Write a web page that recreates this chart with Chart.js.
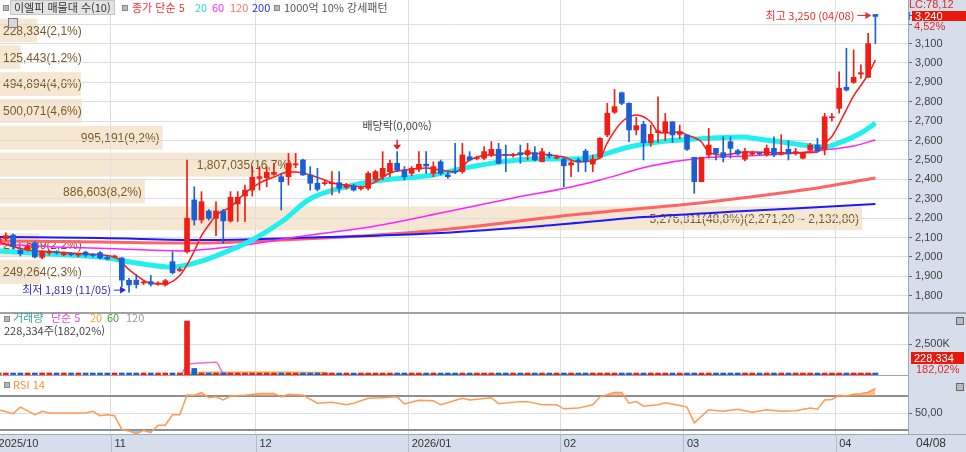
<!DOCTYPE html>
<html lang="ko">
<head>
<meta charset="utf-8">
<title>이엘피 일봉</title>
<script src="https://cdn.jsdelivr.net/npm/chart.js@4.4.1/dist/chart.umd.min.js"></script>
<style>
  html, body { margin: 0; padding: 0; background: #fff; }
  #wrap { position: relative; width: 966px; height: 452px; overflow: hidden; background: #fff;
          font-family: "Noto Sans CJK KR", "Noto Sans", sans-serif; }
  #wrap canvas { position: absolute; left: -5px; }
  .t { position: absolute; white-space: nowrap; font-size: 11px; line-height: 13px; }
  .sq { position: absolute; width: 4px; height: 4px; background: #b8b8b8; border: 1px solid #8a8a8a; }
  .num { font-family: "Liberation Sans", sans-serif; }
</style>
</head>
<body>
<div id="wrap">
  <canvas id="cPrice" width="971" height="312" style="top:0"></canvas>
  <canvas id="cVol" width="971" height="64" style="top:312px"></canvas>
  <canvas id="cRsi" width="971" height="76" style="top:376px"></canvas>

  <!-- price panel legend -->
  <div class="sq" style="left:3px;top:5px"></div>
  <div class="t" style="left:10px;top:0;padding:0 3px;background:#e3e3e3;border:1px solid #c4c4c4;color:#333">이엘피 매물대 수(10)</div>
  <div class="sq" style="left:122px;top:5px"></div>
  <div class="t" style="left:132px;top:1px;color:#ff3030">종가 단순 5</div>
  <div class="t" style="left:195px;top:1px;color:#22dcdc">20</div>
  <div class="t" style="left:212px;top:1px;color:#ff2cff">60</div>
  <div class="t" style="left:230px;top:1px;color:#ff7070">120</div>
  <div class="t" style="left:252px;top:1px;color:#2a2aff">200</div>
  <div class="sq" style="left:274px;top:5px"></div>
  <div class="t" style="left:284px;top:1px;color:#555">1000억 10% 강세패턴</div>
  <div style="position:absolute;left:8px;top:18px;width:8px;height:8px;border:1px solid #7a7a7a;background:#d8d8d8"></div>

  <!-- right axis flags -->
  <div class="t num" style="left:909px;top:-2px;color:#e02828">LC:78,12</div>
  <div class="t num" style="left:908px;top:10px;color:#3060d0;font-size:10px">H</div>
  <div class="t num" style="left:912px;top:11px;width:54px;height:10px;line-height:10px;padding-left:3px;box-sizing:border-box;background:#e8180c;color:#fff">3,240</div>
  <div class="t num" style="left:914px;top:20px;color:#e02828">4,52%</div>

  <!-- volume panel legend -->
  <div class="sq" style="left:4px;top:316px"></div>
  <div class="t" style="left:13px;top:311px;color:#36a3a3">거래량</div>
  <div class="t" style="left:51px;top:311px;color:#e24fd2">단순 5</div>
  <div class="t" style="left:90px;top:311px;color:#f0a830">20</div>
  <div class="t" style="left:107px;top:311px;color:#3a9e3a">60</div>
  <div class="t" style="left:126px;top:311px;color:#999">120</div>
  <div class="t" style="left:4px;top:324px;color:#444">228,334주(182,02%)</div>
  <div style="position:absolute;left:956px;top:317px;width:6px;height:6px;border:1px solid #666;background:#bbb"></div>
  <div class="t num" style="left:911px;top:352px;width:53px;height:12px;line-height:12px;padding-left:3px;box-sizing:border-box;background:#e8180c;color:#fff">228,334</div>
  <div class="t num" style="left:916px;top:363px;color:#e02828">182,02%</div>

  <!-- rsi legend -->
  <div class="sq" style="left:4px;top:382px"></div>
  <div class="t" style="left:13px;top:378px;color:#ff8c3c">RSI 14</div>
  <div style="position:absolute;left:956px;top:383px;width:6px;height:6px;border:1px solid #666;background:#bbb"></div>

  <div class="t num" style="left:916px;top:437px;color:#333;font-size:12px">04/08</div>
</div>

<script>
// ---- data ----
const dates = [
  '2025/10/10','2025/10/13','2025/10/14','2025/10/15','2025/10/16','2025/10/17','2025/10/20','2025/10/21',
  '2025/10/22','2025/10/23','2025/10/24','2025/10/27','2025/10/28','2025/10/29','2025/10/30','2025/10/31',
  '2025/11/03','2025/11/04','2025/11/05','2025/11/06','2025/11/07','2025/11/10','2025/11/11','2025/11/12',
  '2025/11/13','2025/11/14','2025/11/17','2025/11/18','2025/11/19','2025/11/20','2025/11/21','2025/11/24',
  '2025/11/25','2025/11/26','2025/11/27','2025/11/28',
  '2025/12/01','2025/12/02','2025/12/03','2025/12/04','2025/12/05','2025/12/08','2025/12/09','2025/12/10',
  '2025/12/11','2025/12/12','2025/12/15','2025/12/16','2025/12/17','2025/12/18','2025/12/19','2025/12/22',
  '2025/12/23','2025/12/24','2025/12/26','2025/12/29','2025/12/30',
  '2026/01/02','2026/01/05','2026/01/06','2026/01/07','2026/01/08','2026/01/09','2026/01/12','2026/01/13',
  '2026/01/14','2026/01/15','2026/01/16','2026/01/19','2026/01/20','2026/01/21','2026/01/22','2026/01/23',
  '2026/01/26','2026/01/27','2026/01/28','2026/01/29','2026/01/30',
  '2026/02/02','2026/02/03','2026/02/04','2026/02/05','2026/02/06','2026/02/09','2026/02/10','2026/02/11',
  '2026/02/12','2026/02/13','2026/02/19','2026/02/20','2026/02/23','2026/02/24','2026/02/25','2026/02/26',
  '2026/02/27',
  '2026/03/03','2026/03/04','2026/03/05','2026/03/06','2026/03/09','2026/03/10','2026/03/11','2026/03/12',
  '2026/03/13','2026/03/16','2026/03/17','2026/03/18','2026/03/19','2026/03/20','2026/03/23','2026/03/24',
  '2026/03/25','2026/03/26','2026/03/27','2026/03/30','2026/03/31',
  '2026/04/01','2026/04/02','2026/04/03','2026/04/06','2026/04/07','2026/04/08'
];

const opens = [
  2080,2095,2113,2035,2040,2072,1998,2022,2026,2012, 2015,2010,2025,2010,2022,1998,2000,1995,1880,1881,
  1866,1873,1860,1856,1976,1930,2027,2294,2191,2237, 2199,2237,2186,2273,2314,2345,2405,2409,2426,2414,
  2414,2475,2500,2423,2380,2378,2378,2383,2359,2366, 2352,2354,2400,2414,2440,2483,2448,2431,2452,2479,
  2431,2491,2423,2442,2440,2517,2507,2509,2526,2555, 2528,2524,2538,2526,2538,2491,2530,2510,2504,2474,
  2500,2546,2479,2514,2629,2746,2847,2792,2655,2684, 2589,2641,2641,2697,2632,2629,2514,2388,2526,2560,
  2538,2594,2548,2504,2530,2533,2526,2560,2530,2555, 2534,2509,2551,2577,2555,2718,2766,2875,2900,2943,
  2926,3250
];
const highs = [
  2115,2125,2120,2045,2062,2080,2035,2035,2032,2025, 2022,2020,2030,2018,2028,2005,2010,1998,1890,1910,
  1878,1905,1872,1885,2027,1945,2500,2362,2337,2245, 2285,2245,2337,2337,2371,2466,2466,2466,2483,2430,
  2534,2534,2505,2466,2457,2395,2440,2440,2380,2375, 2365,2440,2448,2543,2500,2543,2466,2466,2543,2543,
  2491,2500,2440,2586,2586,2543,2520,2569,2595,2586, 2577,2535,2577,2586,2569,2560,2540,2525,2510,2500,
  2510,2555,2526,2615,2792,2864,2850,2795,2720,2700, 2680,2826,2740,2697,2680,2629,2514,2514,2663,2560,
  2620,2620,2555,2560,2545,2540,2577,2620,2630,2600, 2560,2540,2586,2612,2741,2741,2955,3076,3067,2990,
  3153,3250
];
const lows = [
  2070,2085,2040,2005,2030,1995,1990,2010,2015,2005, 2005,2000,2000,2000,1990,1985,1995,1847,1819,1840,
  1858,1850,1855,1850,1912,1925,2020,2165,2175,2190, 2110,2070,2180,2183,2183,2314,2345,2362,2420,2242,
  2371,2460,2420,2345,2340,2370,2320,2330,2350,2340, 2345,2345,2390,2397,2414,2440,2397,2420,2440,2431,
  2414,2423,2405,2430,2431,2495,2500,2500,2517,2480, 2440,2515,2483,2500,2495,2490,2510,2505,2362,2414,
  2440,2440,2440,2510,2620,2740,2785,2594,2630,2500, 2570,2590,2600,2590,2610,2550,2328,2388,2510,2500,
  2490,2510,2525,2495,2525,2525,2520,2517,2525,2500, 2525,2505,2545,2540,2526,2700,2741,2855,2895,2920,
  2926,3100
];
const closes = [
  2100,2110,2055,2018,2055,2000,2025,2026,2022,2018, 2012,2012,2010,2008,1995,1990,2002,1881,1856,1858,
  1870,1860,1866,1878,1919,1936,2200,2191,2285,2199, 2237,2186,2308,2308,2345,2411,2414,2436,2436,2388,
  2483,2479,2423,2380,2349,2382,2382,2354,2371,2345, 2356,2431,2440,2457,2483,2448,2414,2457,2478,2469,
  2466,2431,2414,2438,2526,2500,2510,2543,2555,2483, 2524,2528,2526,2548,2500,2543,2520,2514,2470,2486,
  2491,2491,2504,2612,2741,2775,2792,2655,2677,2589, 2632,2650,2697,2629,2646,2555,2388,2514,2577,2534,
  2514,2560,2531,2543,2536,2531,2560,2526,2540,2531, 2543,2534,2577,2548,2723,2722,2870,2861,2926,2950,
  3100,3240
];

// daily volume, thousand shares
const volumes = [
  18,15,22,16,12,20,14,11,13,10, 12,11,14,12,17,18,15,62,45,28,
  14,20,12,14,24,12,4290,590,180,150, 137,110,110,70,75,70,55,50,40,60,
  90,45,60,55,45,30,35,40,25,28, 22,50,35,75,45,40,35,30,40,35,
  28,38,22,40,85,30,20,32,35,40, 28,18,25,25,30,32,18,15,35,22,
  20,35,28,170,110,80,70,110,55,85, 50,70,45,55,30,60,110,80,75,32,
  30,45,22,32,20,18,35,32,28,30, 22,25,50,45,140,55,150,135,120,90,
  125.443,228.334
];

// moving averages: [day index, value]
const ma5Pts = [[0,2077],[4,2036],[8,2026],[12,2015],[16,2000],[18,1935],[20,1880],[21,1865],[23,1862],[25,1905],
  [26,1960],[27,2030],[28,2110],[29,2165],[30,2215],[32,2258],[34,2330],[36,2381],[38,2412],[40,2438],[41,2438],
  [43,2423],[45,2397],[46,2381],[48,2371],[50,2361],[52,2387],[54,2433],[56,2448],[59,2459],[61,2448],[63,2438],
  [65,2500],[68,2526],[71,2526],[73,2536],[76,2526],[78,2515],[80,2490],[83,2510],[84,2588],[86,2696],[88,2732],
  [90,2696],[91,2644],[92,2639],[94,2644],[95,2629],[97,2593],[98,2541],[100,2526],[103,2541],[104,2541],
  [109,2536],[113,2541],[114,2585],[115,2621],[117,2760],[118,2830],[120,2941],[121,3015]];
const ma20Pts = [[0,2031],[7,2015],[14,2000],[19,1969],[24,1948],[28,1979],[32,2036],[35,2088],[39,2180],[43,2300],
  [48,2362],[52,2392],[60,2423],[65,2464],[74,2505],[79,2505],[82,2515],[87,2567],[91,2593],[96,2608],[103,2619],
  [104,2613],[109,2588],[114,2567],[116,2588],[119,2639],[121,2691]];
const ma60Pts = [[0,2067],[8,2052],[17,2041],[25,2031],[33,2057],[41,2103],[52,2160],[61,2227],[71,2304],[79,2361],
  [83,2397],[90,2469],[97,2510],[103,2521],[108,2531],[114,2552],[118,2572],[121,2603]];
const ma120Pts = [[0,2083],[14,2077],[28,2072],[39,2088],[50,2108],[61,2139],[79,2216],[98,2284],[111,2345],[121,2407]];
const ma200Pts = [[0,2103],[14,2098],[28,2088],[41,2098],[61,2124],[75,2160],[89,2206],[103,2237],[111,2253],[121,2273]];

const volMa5Pts = [[0,16],[10,12],[16,15],[17,24],[19,32],[21,34],[25,18],[26,870],[27,986],[28,1022],[29,1052],
  [30,1069],[31,233],[32,137],[35,87],[40,63],[45,47],[50,30],[53,41],[56,46],[60,34],[64,45],[68,39],[72,26],
  [76,26],[80,24],[83,55],[85,92],[87,108],[90,74],[93,63],[96,67],[98,78],[101,52],[104,30],[108,27],[111,27],
  [113,34],[114,58],[116,88],[117,105],[118,120],[119,127],[120,124],[121,140]];
const volMa20Pts = [[0,15],[16,15],[20,22],[25,20],[26,233],[30,290],[35,300],[40,296],[45,282],[46,75],[50,60],
  [55,45],[60,42],[70,38],[80,28],[84,42],[88,58],[92,64],[96,70],[100,67],[104,52],[108,42],[112,35],[114,40],
  [116,50],[118,62],[121,82]];
const volMa60Pts = [[0,18],[25,18],[26,88],[40,102],[60,100],[80,98],[85,100],[86,32],[95,45],[105,48],[115,50],[121,62]];
const volMa120Pts = [[0,22],[25,22],[26,57],[60,58],[90,66],[121,86]];

const rsiPts = [[0,53.9],[2,49.3],[3,56.9],[5,48.1],[6,52],[7,50],[12,50],[13,52],[14,47],[15,48],[16,47],[17,30.8],
  [18,29],[19,25.8],[20,29.7],[21,27],[22,35.8],[23,35.8],[24,48],[25,48],[26,71.2],[27,71],[28,73.9],[29,68],
  [30,69],[31,65.4],[32,70],[34,71],[36,73],[38,73],[39,69],[40,72],[42,71],[44,61.5],[46,62.7],[48,59.7],
  [49,61.5],[51,67.3],[53,68],[55,69],[56,60.6],[58,65],[60,64.3],[61,59.7],[64,67.3],[65,65.4],[68,68],[69,61],
  [72,63.4],[73,63.4],[75,59.7],[77,59.7],[78,55],[80,55.8],[82,59.7],[83,69],[85,74],[86,74],[87,61.5],[88,63.4],
  [89,58],[91,59.7],[92,62],[94,58.8],[95,57],[96,38.5],[98,53.9],[100,52],[102,54.6],[104,51],[106,53.9],[108,52],
  [110,52.7],[112,55.8],[113,54.6],[114,65.4],[115,66],[116,70.8],[117,70],[118,72],[119,72.5],[120,74.4],[121,78.8]];
const rsiLevels = [70, 30];

// price-volume profile, 10 bands from top to bottom (by close)
const profileVol = [228334, 125443, 494894, 500071, 995191, 1807035, 886603, 5276811, 241589, 249264];
const profilePct = ['2,1', '1,2', '4,6', '4,6', '9,2', '16,7', '8,2', '48,8', '2,2', '2,3'];
const profileRange = [1856, 3240];

const monthIdx = [0, 16, 36, 57, 78, 95, 116];
const monthText = ['2025/10', '11', '12', '2026/01', '02', '03', '04'];
const priceTicks = [1800,1900,2000,2100,2200,2300,2400,2500,2600,2700,2800,2900,3000,3100,3200];
const volTicks = [2500];
const exDivIdx = 55;

// ---- drawing ----
const RED = '#f01e14', BLUE = '#1c5fd4', GRID = '#dedede', AXIS_BG = '#d5deea', AXIS_LINE = '#9aa9bc';
const labels = dates.concat(['', '', '', '']);
const up = closes.map((c, i) => c >= opens[i]);
const candleColor = up.map(u => u ? RED : BLUE);
// the widest profile band covers this share of the plot width, starting just inside the left edge
const BAND_START = 5 / 913, BAND_SPAN = 862 / 913;

const fmt = v => Math.round(v).toString().replace(/\B(?=(\d{3})+(?!\d))/g, ',');
const dec = v => { const p = v.toFixed(2).split('.'); return fmt(+p[0]) + ',' + p[1]; };

function full(pts) {
  const a = new Array(labels.length).fill(null);
  pts.forEach(p => { a[p[0]] = p[1]; });
  return a;
}

function maLine(pts, color, width, order) {
  return { type: 'line', data: full(pts), borderColor: color, borderWidth: width, pointRadius: 0,
           spanGaps: true, cubicInterpolationMode: 'monotone', order: order };
}

function xAxis(showLabels) {
  return {
    type: 'category', offset: true,
    grid: { offset: true, drawTicks: false, lineWidth: 1,
            color: c => monthIdx.indexOf(c.index) >= 0 ? GRID : 'rgba(0,0,0,0)' },
    border: { display: false },
    ticks: { display: showLabels, autoSkip: false, maxRotation: 0, minRotation: 0, align: 'start', padding: 3,
             color: '#333', font: { family: 'Liberation Sans', size: 11 },
             callback: (v, i) => { const k = monthIdx.indexOf(i); return k >= 0 ? monthText[k] : ''; } },
    afterFit: s => { s.height = showLabels ? 18 : 0; s.paddingLeft = 0; s.paddingRight = 0; }
  };
}

function yAxis(extra) {
  const base = {
    position: 'right',
    grid: { color: GRID, lineWidth: 1, drawTicks: true, tickLength: 4, tickColor: '#666' },
    border: { display: true, color: AXIS_LINE },
    ticks: { color: '#444', padding: 3, font: { family: 'Liberation Sans', size: 11 } },
    afterFit: s => { s.width = 58; s.paddingTop = 0; s.paddingBottom = 0; }
  };
  Object.keys(extra).forEach(k => {
    base[k] = (typeof extra[k] === 'object' && !Array.isArray(extra[k])) ? Object.assign({}, base[k], extra[k]) : extra[k];
  });
  return base;
}

function axisBg(chart) {
  const { ctx, chartArea: a } = chart;
  ctx.save();
  ctx.fillStyle = AXIS_BG;
  ctx.fillRect(a.right, 0, chart.width - a.right, chart.height);
  ctx.restore();
}

function arrowRight(ctx, x1, x2, y) {
  ctx.beginPath(); ctx.moveTo(x1, y); ctx.lineTo(x2 - 4, y); ctx.stroke();
  ctx.beginPath(); ctx.moveTo(x2, y); ctx.lineTo(x2 - 6, y - 3.5); ctx.lineTo(x2 - 6, y + 3.5); ctx.closePath(); ctx.fill();
}

const priceDeco = {
  id: 'priceDeco',
  beforeDraw(chart) {
    axisBg(chart);
    const { ctx, scales } = chart;
    const y = scales.y, x = scales.x;
    const step = (profileRange[1] - profileRange[0]) / profileVol.length;
    const profileMax = Math.max.apply(null, profileVol);
    const maxK = profileVol.indexOf(profileMax);
    ctx.save();
    ctx.font = '12px "Liberation Sans", sans-serif';
    ctx.textBaseline = 'middle';
    profileVol.forEach((v, k) => {
      const hi = profileRange[1] - k * step, lo = hi - step;
      const y1 = y.getPixelForValue(hi) + 2, y2 = y.getPixelForValue(lo) - 1;
      const x1 = x.getPixelForDecimal(BAND_START), x2 = x.getPixelForDecimal(BAND_START + BAND_SPAN * v / profileMax);
      ctx.fillStyle = '#f6e7d3';
      ctx.fillRect(x1, y1, x2 - x1, y2 - y1);
      let txt = fmt(v) + '(' + profilePct[k] + '%)';
      if (k === maxK) txt += '(' + dec(hi) + ' ~ ' + dec(lo) + ')';
      const w = ctx.measureText(txt).width;
      ctx.fillStyle = '#7a5a28';
      ctx.fillText(txt, Math.max(x1 + 3, x2 - w - 3), (y1 + y2) / 2 + 1);
    });
    ctx.restore();
  },
  afterDatasetsDraw(chart) {
    const { ctx, scales } = chart;
    const x = scales.x, y = scales.y;
    ctx.save();
    ctx.font = '11px "Noto Sans CJK KR", sans-serif';
    ctx.textBaseline = 'middle';
    ctx.lineWidth = 1;

    const hiIdx = highs.indexOf(Math.max.apply(null, highs));
    const hx = x.getPixelForValue(hiIdx), hy = y.getPixelForValue(highs[hiIdx]) + 1;
    ctx.fillStyle = ctx.strokeStyle = '#e8302a';
    ctx.textAlign = 'right';
    ctx.fillText('최고 ' + fmt(highs[hiIdx]) + ' (' + dates[hiIdx].slice(5) + ')', hx - 21, hy);
    arrowRight(ctx, hx - 18, hx - 4, hy);

    const loIdx = lows.indexOf(Math.min.apply(null, lows));
    const lx = x.getPixelForValue(loIdx), ly = y.getPixelForValue(lows[loIdx]) - 2;
    ctx.fillStyle = ctx.strokeStyle = '#2a2ad0';
    ctx.fillText('최저 ' + fmt(lows[loIdx]) + ' (' + dates[loIdx].slice(5) + ')', lx - 18, ly);
    arrowRight(ctx, lx - 15, lx - 3, ly);

    const dx = x.getPixelForValue(exDivIdx), dy = y.getPixelForValue(highs[exDivIdx]);
    ctx.textAlign = 'center';
    ctx.fillStyle = '#404040';
    ctx.fillText('배당락(0,00%)', dx, dy - 26);
    ctx.fillStyle = ctx.strokeStyle = '#e02020';
    ctx.lineWidth = 1.5;
    ctx.beginPath(); ctx.moveTo(dx, dy - 12); ctx.lineTo(dx, dy - 6); ctx.stroke();
    ctx.beginPath(); ctx.moveTo(dx - 4, dy - 7); ctx.lineTo(dx + 4, dy - 7); ctx.lineTo(dx, dy - 2); ctx.closePath(); ctx.fill();
    ctx.restore();
  }
};

const volDeco = {
  id: 'volDeco',
  beforeDraw: axisBg,
  afterDraw(chart) {
    const { ctx, chartArea: a } = chart;
    ctx.save();
    ctx.fillStyle = '#a2a2a2';
    ctx.fillRect(0, 0, chart.width, 2);
    ctx.fillRect(0, a.bottom - 1, a.right, 2);
    ctx.restore();
  }
};

const rsiDeco = {
  id: 'rsiDeco',
  beforeDraw(chart) {
    axisBg(chart);
    const { ctx, chartArea: a } = chart;
    ctx.save();
    ctx.fillStyle = AXIS_BG;
    ctx.fillRect(0, a.bottom, chart.width, chart.height - a.bottom);
    ctx.restore();
  },
  afterDraw(chart) {
    const { ctx, chartArea: a, scales } = chart;
    const x = scales.x;
    const half = (x.getPixelForValue(1) - x.getPixelForValue(0)) / 2;
    ctx.save();
    ctx.fillStyle = AXIS_LINE;
    ctx.fillRect(0, a.bottom, chart.width, 1);
    ctx.fillStyle = '#b4bfce';
    monthIdx.forEach(i => { ctx.fillRect(Math.round(x.getPixelForValue(i) - half), a.bottom, 1, chart.height - a.bottom); });
    ctx.restore();
  }
};

Chart.defaults.font.family = '"Noto Sans CJK KR", "Noto Sans", sans-serif';
const common = {
  responsive: false, animation: false, devicePixelRatio: 1,
  layout: { padding: 0 },
  plugins: { legend: { display: false }, tooltip: { enabled: false } }
};

new Chart(document.getElementById('cPrice'), {
  type: 'bar',
  data: {
    labels: labels,
    datasets: [
      maLine(ma120Pts, '#ff6464', 3, 7),
      maLine(ma200Pts, '#1a1aff', 2, 6),
      maLine(ma60Pts, '#ff22ff', 1.5, 5),
      maLine(ma20Pts, '#22f0f0', 5, 4),
      maLine(ma5Pts, '#ff1a1a', 1.5, 3),
      { data: lows.map((l, i) => [l, highs[i]]), backgroundColor: candleColor, barThickness: 1, grouped: false, order: 2 },
      { data: opens.map((o, i) => [o, closes[i]]), backgroundColor: candleColor, barThickness: 5, grouped: false,
        minBarLength: 1, order: 1 }
    ]
  },
  options: Object.assign({}, common, {
    scales: {
      x: xAxis(false),
      y: yAxis({
        min: 1716.5, max: 3324.7,
        afterBuildTicks: s => { s.ticks = priceTicks.map(v => ({ value: v })); },
        ticks: { callback: v => v === 3200 ? '' : fmt(v) }
      })
    }
  }),
  plugins: [priceDeco]
});

new Chart(document.getElementById('cVol'), {
  type: 'bar',
  data: {
    labels: labels,
    datasets: [
      maLine(volMa120Pts, '#9a9a9a', 1.5, 5),
      maLine(volMa60Pts, '#3fa33f', 1.5, 4),
      maLine(volMa20Pts, '#f2b33c', 1.5, 3),
      maLine(volMa5Pts, '#f06ad8', 1.5, 2),
      { data: volumes, backgroundColor: candleColor, barThickness: 5, minBarLength: 3, order: 1 }
    ]
  },
  options: Object.assign({}, common, {
    scales: {
      x: xAxis(false),
      y: yAxis({
        min: 0, max: 5000,
        afterBuildTicks: s => { s.ticks = volTicks.map(v => ({ value: v })); },
        ticks: { callback: v => fmt(v) + 'K' }
      })
    }
  }),
  plugins: [volDeco]
});

new Chart(document.getElementById('cRsi'), {
  type: 'line',
  data: {
    labels: labels,
    datasets: [
      { data: full(rsiPts), borderColor: '#ff9a50', borderWidth: 1.5, pointRadius: 0, spanGaps: true,
        fill: { target: { value: rsiLevels[0] }, above: 'rgba(255,150,80,0.6)', below: 'rgba(0,0,0,0)' } },
      { data: full(rsiPts), borderColor: 'rgba(0,0,0,0)', borderWidth: 0, pointRadius: 0, spanGaps: true,
        fill: { target: { value: rsiLevels[1] }, above: 'rgba(0,0,0,0)', below: 'rgba(110,180,215,0.65)' } }
    ]
  },
  options: Object.assign({}, common, {
    scales: {
      x: xAxis(true),
      y: yAxis({
        min: 25.5, max: 93.4,
        afterBuildTicks: s => { s.ticks = [rsiLevels[1], 50, rsiLevels[0]].map(v => ({ value: v })); },
        grid: { color: c => c.tick && c.tick.value === 50 ? GRID : '#8e8e8e',
                lineWidth: c => c.tick && c.tick.value === 50 ? 1 : 2,
                tickColor: c => c.tick && c.tick.value === 50 ? '#666' : 'rgba(0,0,0,0)',
                drawTicks: true, tickLength: 4 },
        ticks: { callback: v => v === 50 ? '50,00' : '' }
      })
    }
  }),
  plugins: [rsiDeco]
});
</script>
</body>
</html>
